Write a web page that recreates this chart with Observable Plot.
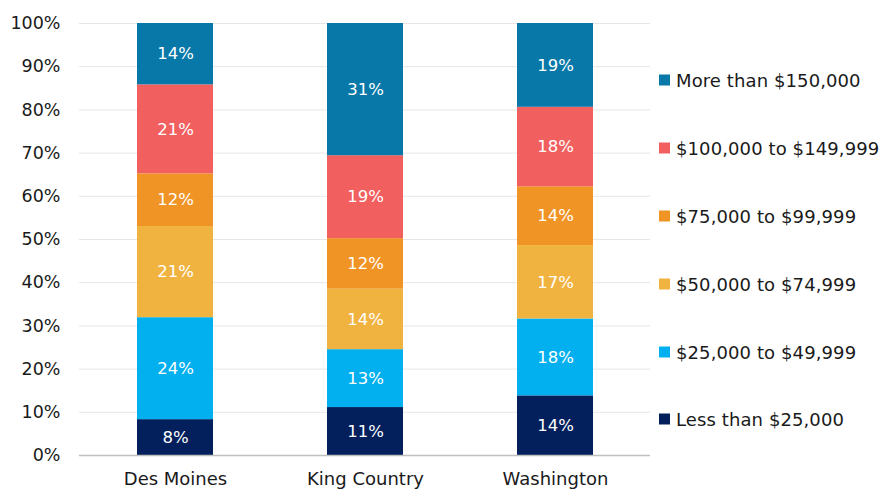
<!DOCTYPE html>
<html>
<head>
<meta charset="utf-8">
<script src="https://cdn.jsdelivr.net/npm/d3@7"></script>
<script src="https://cdn.jsdelivr.net/npm/@observablehq/plot@0.6"></script>
<style>
  html, body { margin: 0; padding: 0; background: #fff; }
  #wrap { position: relative; width: 883px; height: 489px; font-family: "DejaVu Sans", sans-serif; }
  #legend { position: absolute; left: 659px; top: 0; }
  .item { position: absolute; left: 0; display: flex; align-items: center; white-space: nowrap; font-size: 18px; color: #1a1a1a; transform: translateY(-50%); letter-spacing: 0.1px; }
  .sw { width: 11px; height: 11px; margin-right: 6px; flex: none; }
</style>
</head>
<body>
<div id="wrap"><div id="legend"></div></div>
<script>
const categories = ["Des Moines", "King Country", "Washington"];
const series = ["Less than $25,000", "$25,000 to $49,999", "$50,000 to $74,999", "$75,000 to $99,999", "$100,000 to $149,999", "More than $150,000"];
const colors = ["#03205c", "#02b0ef", "#f1b340", "#f09425", "#f25f5f", "#0778a8"];
const desMoines = [8.3, 23.6, 21.1, 12.2, 20.6, 14.2];
const kingCountry = [11.1, 13.4, 14.0, 11.7, 19.2, 30.6];
const washington = [13.8, 17.8, 17.0, 13.6, 18.4, 19.4];
const yTicks = [0, 10, 20, 30, 40, 50, 60, 70, 80, 90, 100];

const valuesByCategory = [desMoines, kingCountry, washington];
const data = [];
categories.forEach((c, ci) => {
  series.forEach((s, si) => data.push({category: c, series: s, value: valuesByCategory[ci][si]}));
});

const plot = Plot.plot({
  width: 883,
  height: 489,
  marginLeft: 79,
  marginRight: 233,
  marginTop: 23,
  marginBottom: 34,
  style: {fontFamily: "'DejaVu Sans', sans-serif", fontSize: "17px", color: "#1a1a1a", background: "#fff"},
  x: {domain: categories, paddingInner: 0.6, paddingOuter: 0.3, label: null, tickSize: 0, tickPadding: 17},
  y: {domain: [0, 100], ticks: yTicks, tickFormat: d => d + "%", label: null, tickSize: 0, tickPadding: 19},
  color: {domain: series, range: colors},
  marks: [
    Plot.gridY(yTicks, {stroke: "#e6e6e6", strokeOpacity: 1, strokeWidth: 1}),
    Plot.barY(data, {x: "category", y: "value", fill: "series", z: "series", order: series}),
    Plot.text(data, Plot.stackY({x: "category", y: "value", z: "series", order: series, text: d => Math.round(d.value) + "%", fill: "white", fontSize: 16.5})),
    Plot.ruleY([0], {stroke: "#bfbfbf", strokeWidth: 1.5}),
    Plot.axisX({tickSize: 0, tickPadding: 17, fontSize: 18, label: null}),
    Plot.axisY({ticks: yTicks, tickFormat: d => d + "%", tickSize: 0, tickPadding: 19, fontSize: 17.5, label: null})
  ]
});
document.getElementById("wrap").prepend(plot);
plot.style.position = "absolute";
plot.style.left = "0";
plot.style.top = "0";

const legendY = [419, 352, 284, 216, 148, 80];
const legend = document.getElementById("legend");
series.forEach((s, i) => {
  const it = document.createElement("div");
  it.className = "item";
  it.style.top = legendY[i] + "px";
  it.innerHTML = `<span class="sw" style="background:${colors[i]}"></span><span>${s}</span>`;
  legend.appendChild(it);
});
</script>
</body>
</html>
